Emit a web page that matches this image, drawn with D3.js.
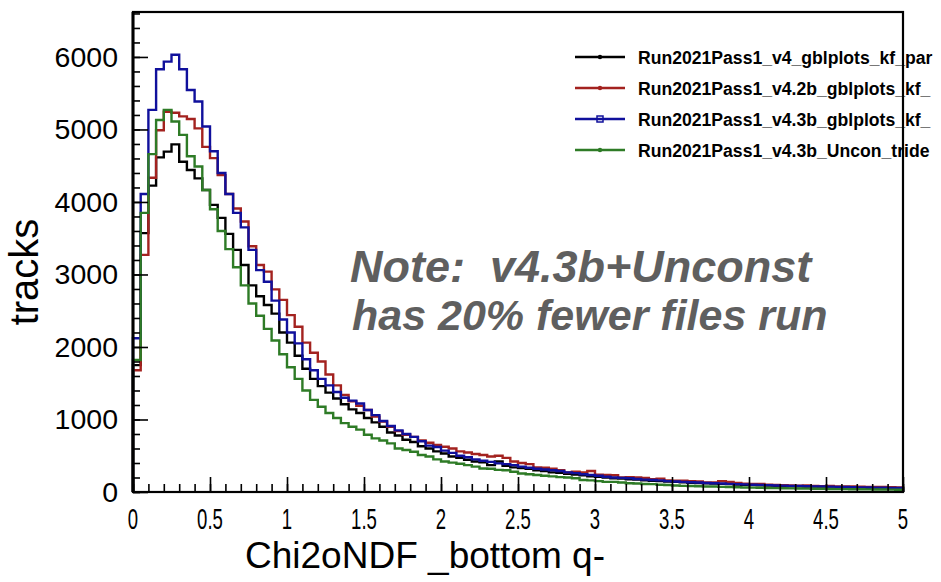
<!DOCTYPE html>
<html>
<head>
<meta charset="utf-8">
<script src="https://cdn.jsdelivr.net/npm/d3@7"></script>
<style>
  body { margin: 0; background: #fff; overflow: hidden; }
  svg { display: block; }
</style>
</head>
<body>
<script>
// histogram contents, 100 bins of 0.05 between 0 and 5
const v4 = [1750, 3570, 4225, 4615, 4695, 4795, 4555, 4440, 4325, 4165,
  3960, 3780, 3560, 3340, 3130, 2850, 2700, 2580, 2460, 2200,
  2060, 1880, 1700, 1560, 1460, 1370, 1290, 1210, 1140, 1090,
  1020, 960, 900, 820, 780, 720, 690, 630, 600, 560,
  530, 490, 470, 445, 420, 410, 370, 420, 360, 340,
  330, 320, 300, 290, 270, 265, 250, 240, 230, 215,
  210, 200, 190, 185, 175, 170, 160, 155, 150, 145,
  140, 135, 128, 125, 120, 115, 112, 108, 102, 100,
  96, 94, 90, 86, 84, 80, 78, 76, 74, 70,
  68, 66, 64, 62, 60, 58, 56, 55, 53, 52];

const v42b = [1680, 3270, 4335, 4990, 5245, 5230, 5180, 5145, 5015, 4760,
  4605, 4370, 4110, 3910, 3730, 3390, 3130, 3040, 2795, 2650,
  2440, 2280, 2060, 1920, 1800, 1620, 1470, 1340, 1250, 1190,
  1130, 1040, 970, 900, 840, 790, 760, 710, 680, 650,
  625, 600, 560, 545, 525, 510, 490, 500, 470, 420,
  400, 385, 340, 335, 320, 300, 270, 280, 270, 290,
  240, 235, 230, 200, 205, 200, 195, 175, 185, 160,
  155, 155, 150, 145, 130, 130, 150, 140, 125, 115,
  110, 112, 100, 97, 95, 92, 88, 90, 85, 80,
  82, 78, 75, 78, 72, 70, 68, 70, 65, 62];

const v43b = [2120, 4110, 5270, 5830, 5935, 6030, 5830, 5545, 5385, 5040,
  4700, 4400, 4110, 3850, 3650, 3340, 3060, 2900, 2640, 2380,
  2200, 2050, 1830, 1680, 1560, 1470, 1380, 1300, 1260, 1220,
  1130, 1060, 980, 910, 850, 800, 760, 700, 640, 620,
  570, 540, 500, 480, 450, 430, 415, 395, 385, 370,
  350, 335, 320, 310, 300, 290, 270, 260, 245, 235,
  225, 210, 200, 195, 190, 180, 170, 165, 160, 150,
  145, 140, 135, 130, 125, 120, 118, 112, 108, 105,
  100, 98, 95, 90, 88, 85, 82, 80, 78, 75,
  72, 70, 68, 66, 64, 62, 60, 58, 56, 55];

const v43bUncon = [1820, 3850, 4660, 5130, 5270, 5110, 4925, 4630, 4490, 4165,
  3900, 3600, 3350, 3100, 2850, 2600, 2430, 2250, 2090, 1900,
  1720, 1560, 1400, 1270, 1175, 1090, 1020, 950, 900, 860,
  790, 740, 710, 670, 600, 580, 555, 510, 490, 450,
  420, 405, 390, 370, 350, 325, 320, 305, 300, 280,
  255, 245, 235, 225, 215, 205, 200, 190, 165, 160,
  150, 140, 140, 130, 120, 118, 110, 108, 100, 97,
  90, 85, 83, 80, 75, 75, 70, 68, 65, 63,
  60, 58, 55, 53, 52, 50, 48, 46, 45, 44,
  42, 40, 40, 38, 37, 36, 35, 34, 33, 32];

const seriesNames = ["Run2021Pass1_v4_gblplots_kf_par",
  "Run2021Pass1_v4.2b_gblplots_kf_",
  "Run2021Pass1_v4.3b_gblplots_kf_",
  "Run2021Pass1_v4.3b_Uncon_tride"];
const seriesValues = [v4, v42b, v43b, v43bUncon];
const seriesColors = ["#000000", "#a3221f", "#10109c", "#2e7b26"];
const seriesMarkers = ["dot", "dot", "square", "dot"];

const xTicks = [0, 0.5, 1, 1.5, 2, 2.5, 3, 3.5, 4, 4.5, 5];
const yTicks = [0, 1000, 2000, 3000, 4000, 5000, 6000];
const noteLines = ["Note:\u00a0 v4.3b+Unconst", "has 20% fewer files run"];

const binWidth = 0.05;

const W = 941, H = 582;
const frame = {left: 133, right: 903, top: 12, bottom: 492};

const svg = d3.select("body").append("svg")
  .attr("width", W)
  .attr("height", H);

const xScale = d3.scaleLinear().domain([0, 5]).range([frame.left, frame.right]);
const yScale = d3.scaleLinear().domain([0, 6620]).range([frame.bottom, frame.top]);

// histogram outlines (green drawn last, it sits on top)
const step = d3.line()
  .x(d => xScale(d[0]))
  .y(d => yScale(d[1]))
  .curve(d3.curveStepAfter);

seriesValues.forEach((vals, s) => {
  let pts = [[0, 0]];
  vals.forEach((v, i) => pts.push([i * binWidth, v]));
  pts.push([vals.length * binWidth, vals[vals.length - 1]]);
  pts.push([vals.length * binWidth, 0]);
  svg.append("path")
    .datum(pts)
    .attr("fill", "none")
    .attr("stroke", seriesColors[s])
    .attr("stroke-width", 2.4)
    .attr("d", step);
});

// note text
const note = svg.append("g")
  .attr("font-family", "'Liberation Sans', Arial, sans-serif")
  .attr("font-weight", "bold")
  .attr("font-style", "italic")
  .attr("fill", "#5f5f5f");
note.append("text").attr("x", 350).attr("y", 282)
  .attr("font-size", 45).text(noteLines[0]);
note.append("text").attr("x", 352).attr("y", 330)
  .attr("font-size", 43).text(noteLines[1]);

// legend
const legend = svg.append("g");
seriesNames.forEach((name, i) => {
  const ly = 57 + i * 31;
  legend.append("line")
    .attr("x1", 575).attr("x2", 625)
    .attr("y1", ly).attr("y2", ly)
    .attr("stroke", seriesColors[i])
    .attr("stroke-width", 2.4);
  if (seriesMarkers[i] == "square") {
    legend.append("rect")
      .attr("x", 597).attr("y", ly - 3)
      .attr("width", 6).attr("height", 6)
      .attr("fill", "none")
      .attr("stroke", seriesColors[i])
      .attr("stroke-width", 1.5);
  } else {
    legend.append("circle")
      .attr("cx", 600).attr("cy", ly)
      .attr("r", 2.2)
      .attr("fill", seriesColors[i]);
  }
  legend.append("text")
    .attr("x", 638).attr("y", ly + 7)
    .attr("font-family", "'Liberation Sans', Arial, sans-serif")
    .attr("font-weight", "bold")
    .attr("font-size", 17.6)
    .attr("fill", "#000")
    .text(name);
});

// axes: minor + major ticks pointing inward
const xMinor = d3.axisBottom(xScale).tickValues(d3.range(0, 5.001, 0.1)).tickSize(-8).tickFormat("");
const xMajor = d3.axisBottom(xScale).tickValues(xTicks).tickSize(-15).tickFormat("");
const yMinor = d3.axisLeft(yScale).tickValues(d3.range(0, 6601, 200)).tickSize(-7).tickFormat("");
const yMajor = d3.axisLeft(yScale).tickValues(yTicks).tickSize(-15).tickFormat("");

[xMinor, xMajor].forEach(a => {
  svg.append("g").attr("transform", `translate(0,${frame.bottom})`).call(a)
    .call(g => g.select(".domain").remove())
    .selectAll("line").attr("stroke", "#000").attr("stroke-width", 1.6);
});
[yMinor, yMajor].forEach(a => {
  svg.append("g").attr("transform", `translate(${frame.left},0)`).call(a)
    .call(g => g.select(".domain").remove())
    .selectAll("line").attr("stroke", "#000").attr("stroke-width", 1.6);
});

// frame
svg.append("rect")
  .attr("x", frame.left).attr("y", frame.top)
  .attr("width", frame.right - frame.left)
  .attr("height", frame.bottom - frame.top)
  .attr("fill", "none")
  .attr("stroke", "#000")
  .attr("stroke-width", 2.2);
svg.append("line")
  .attr("x1", frame.left).attr("x2", frame.left)
  .attr("y1", frame.top).attr("y2", frame.bottom)
  .attr("stroke", "#000").attr("stroke-width", 3);

// tick labels
svg.append("g").selectAll("text")
  .data(xTicks).join("text")
  .attr("transform", d => `translate(${xScale(d)},529) scale(0.64,1)`)
  .attr("text-anchor", "middle")
  .attr("font-family", "'Liberation Sans', Arial, sans-serif")
  .attr("font-size", 29)
  .attr("fill", "#000")
  .text(d => d);

svg.append("g").selectAll("text")
  .data(yTicks).join("text")
  .attr("x", 118)
  .attr("y", d => yScale(d) + 10)
  .attr("text-anchor", "end")
  .attr("font-family", "'Liberation Sans', Arial, sans-serif")
  .attr("font-size", 28.5)
  .attr("fill", "#000")
  .text(d => d);

// axis titles
svg.append("text")
  .attr("x", 245).attr("y", 568)
  .attr("textLength", 360)
  .attr("lengthAdjust", "spacingAndGlyphs")
  .attr("font-family", "'Liberation Sans', Arial, sans-serif")
  .attr("font-size", 36)
  .attr("fill", "#000")
  .text("Chi2oNDF _bottom q-");

svg.append("text")
  .attr("transform", "translate(38,272) rotate(-90)")
  .attr("text-anchor", "middle")
  .attr("font-family", "'Liberation Sans', Arial, sans-serif")
  .attr("font-size", 40)
  .attr("fill", "#000")
  .text("tracks");
</script>
</body>
</html>
